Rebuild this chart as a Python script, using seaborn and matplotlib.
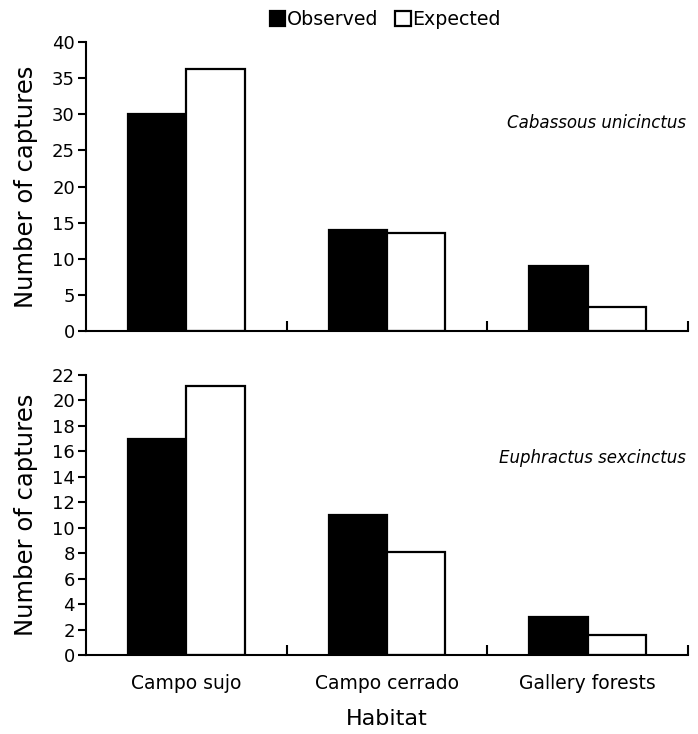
import pandas as pd
import matplotlib.pyplot as plt
import seaborn as sns

# ── Data ──────────────────────────────────────────────────────────────────────
HABITATS = ["Campo sujo", "Campo cerrado", "Gallery forests"]
SERIES   = ["Observed", "Expected"]

cab_observed = [30, 14, 9]
cab_expected = [36.2, 13.6, 3.3]
eup_observed = [17, 11, 3]
eup_expected = [21.1, 8.1, 1.6]

cab_ticks = [0, 5, 10, 15, 20, 25, 30, 35, 40]
eup_ticks = [0, 2, 4, 6, 8, 10, 12, 14, 16, 18, 20, 22]


def long_frame(obs, exp):
    return pd.DataFrame({
        "Habitat": HABITATS * 2,
        "Type": ["Observed"] * 3 + ["Expected"] * 3,
        "Captures": list(obs) + list(exp),
    })


# ── Figure ────────────────────────────────────────────────────────────────────
sns.set_theme(style="ticks")
plt.rcParams["font.family"] = ["DejaVu Sans"]
plt.rcParams["text.color"] = "black"
plt.rcParams["axes.labelcolor"] = "black"
plt.rcParams["xtick.color"] = "black"
plt.rcParams["ytick.color"] = "black"

fig = plt.figure(figsize=(6.98, 7.34), dpi=100)
ax_top = fig.add_axes([0.1232, 0.549, 0.8625, 0.3938])
ax_bot = fig.add_axes([0.1232, 0.1076, 0.8625, 0.3815])

palette = {"Observed": "black", "Expected": "white"}

panels = [
    (ax_top, long_frame(cab_observed, cab_expected), cab_ticks, "Cabassous unicinctus", 0.72),
    (ax_bot, long_frame(eup_observed, eup_expected), eup_ticks, "Euphractus sexcinctus", 0.704),
]

for ax, df, yticks, species, sy in panels:
    sns.barplot(
        data=df, x="Habitat", y="Captures", hue="Type", hue_order=SERIES,
        order=HABITATS, palette=palette, edgecolor="black", linewidth=1.6,
        width=0.58, ax=ax, legend=(ax is ax_top),
    )
    ax.set_xlim(-0.5, 2.5)
    ax.set_ylim(0, yticks[-1])
    ax.set_yticks(yticks)
    ax.set_xticks([0.5, 1.5, 2.5], minor=True)
    ax.tick_params(axis="x", which="major", length=0, labelsize=13.5, pad=14)
    ax.tick_params(axis="x", which="minor", direction="in", length=7, width=1.5)
    ax.tick_params(axis="y", direction="out", length=6, width=1.5, labelsize=13, pad=2)
    for side in ["top", "right"]:
        ax.spines[side].set_visible(False)
    for side in ["left", "bottom"]:
        ax.spines[side].set_linewidth(1.5)
        ax.spines[side].set_color("black")
    ax.set_ylabel("Number of captures", fontsize=17.5, labelpad=10)
    ax.text(0.996, sy, species, transform=ax.transAxes, ha="right", va="center",
            fontsize=12, style="italic")

ax_top.set_xticklabels([])
ax_top.set_xlabel("")
ax_bot.set_xlabel("Habitat", fontsize=16, labelpad=11)

# ── Legend ────────────────────────────────────────────────────────────────────
handles, labels = ax_top.get_legend_handles_labels()
ax_top.get_legend().remove()
fig.legend(
    handles, labels, loc="center", bbox_to_anchor=(0.552, 0.973), ncol=2,
    frameon=False, fontsize=13.7, handlelength=0.8, handleheight=0.8,
    handletextpad=0.1, columnspacing=0.9,
)

plt.savefig("out.png", dpi=100)
